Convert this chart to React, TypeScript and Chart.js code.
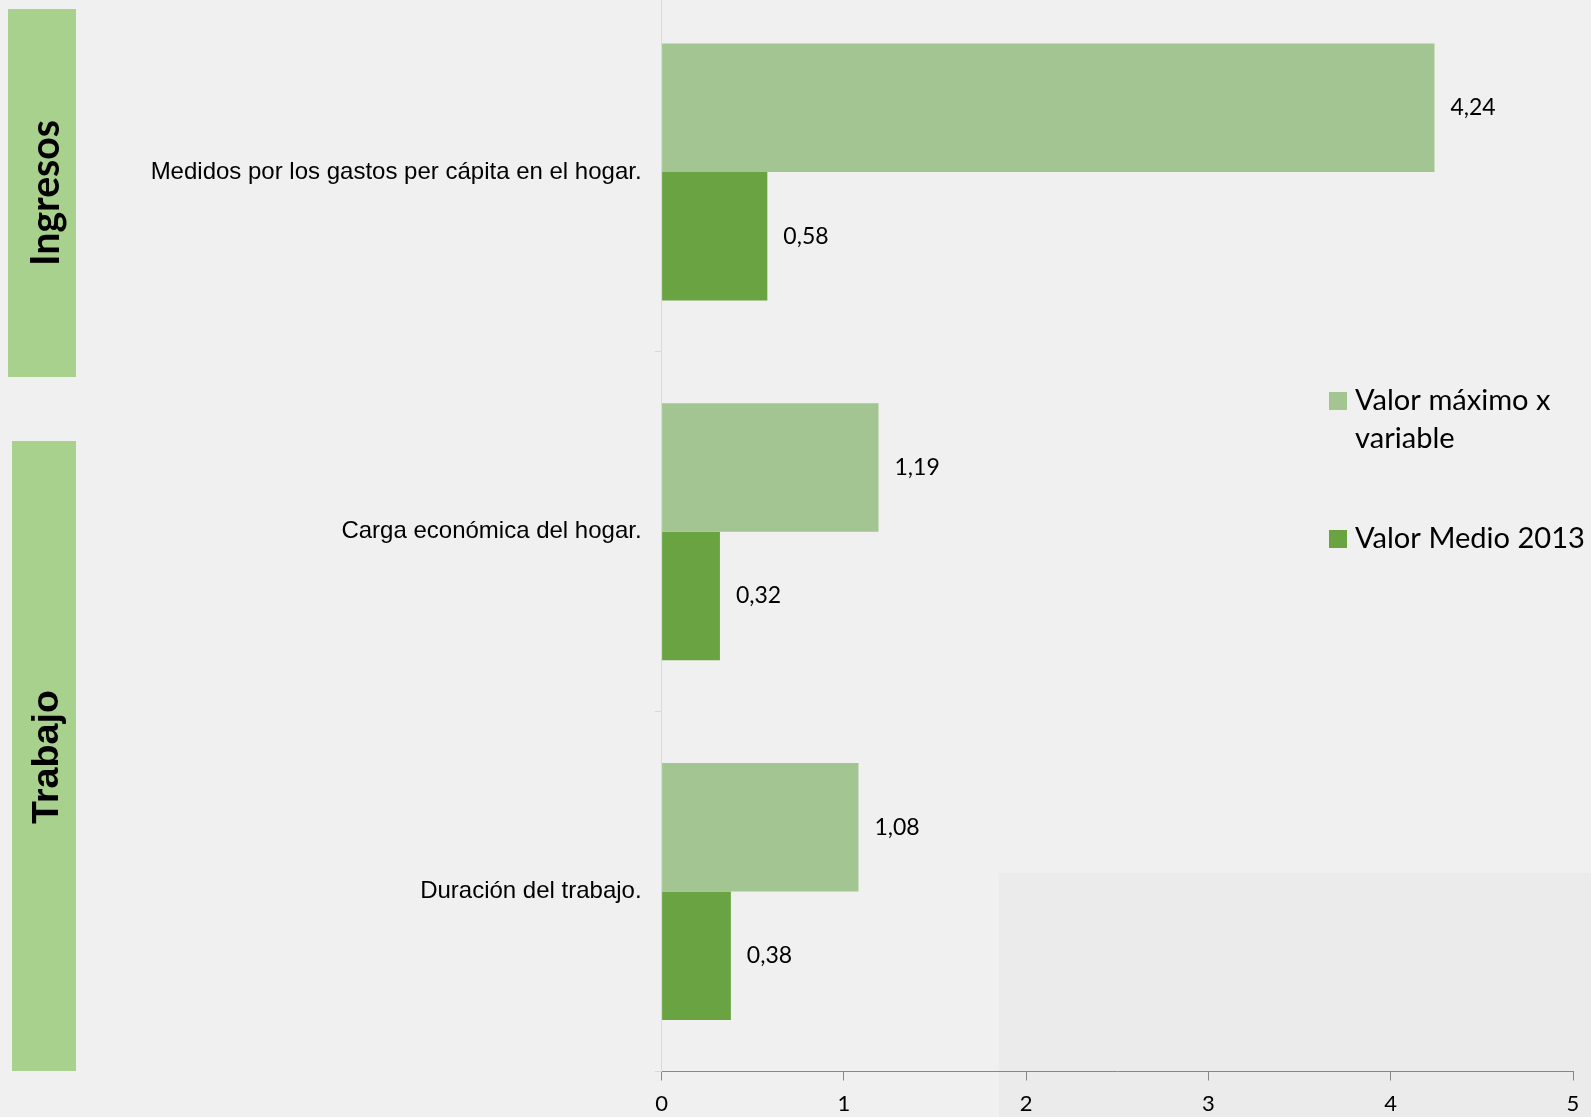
import React, { useEffect, useRef } from 'react';
import { Chart, registerables } from 'chart.js';

Chart.register(...registerables);

const categories = [
  'Medidos por los gastos per cápita en el hogar.',
  'Carga económica del hogar.',
  'Duración del trabajo.',
];
const maxValues = [4.24, 1.19, 1.08];
const meanValues = [0.58, 0.32, 0.38];
const seriesNames = ['Valor máximo x variable', 'Valor Medio 2013'];
const xTicks = [0, 1, 2, 3, 4, 5];
const groupNames = ['Ingresos', 'Trabajo'];

const LIGHT = '#A2C591';
const DARK = '#69A342';
const BOX = '#A9D18E';
const BG = '#F0F0F0';
const OFF = 8; // canvas top sits 8px above page top

const fmt = (v: number) => v.toFixed(2).replace('.', ',');

function fitSize(ctx: CanvasRenderingContext2D, text: string, weight: string, family: string, target: number) {
  ctx.font = `${weight} 100px ${family}`;
  const w = ctx.measureText(text).width;
  return (100 * target) / w;
}

const decorPlugin = {
  id: 'decor',
  beforeDraw(chart: any) {
    const { ctx, width, height } = chart;
    ctx.save();
    ctx.fillStyle = BG;
    ctx.fillRect(0, 0, width, height);
    ctx.fillStyle = '#EBEBEB';
    ctx.fillRect(999, 873 + OFF, width - 999, height - (873 + OFF));
    // group boxes
    const boxes = [
      { x: 8, y: 9, w: 68, h: 368, cx: 46, cy: 193, len: 146, fam: 'Lato, "Open Sans", sans-serif' },
      { x: 12, y: 441, w: 64, h: 630, cx: 48, cy: 757, len: 134, fam: '"Liberation Sans", Arial, sans-serif' },
    ];
    boxes.forEach((b, i) => {
      ctx.fillStyle = BOX;
      ctx.fillRect(b.x, b.y + OFF, b.w, b.h);
      const size = fitSize(ctx, groupNames[i], 'bold', b.fam, b.len);
      ctx.save();
      ctx.translate(b.cx, b.cy + OFF);
      ctx.rotate(-Math.PI / 2);
      ctx.font = `bold ${size}px ${b.fam}`;
      ctx.fillStyle = '#000';
      ctx.textAlign = 'center';
      ctx.textBaseline = 'middle';
      ctx.fillText(groupNames[i], 0, 0);
      ctx.restore();
    });
    ctx.restore();
  },
  afterDatasetsDraw(chart: any) {
    const { ctx } = chart;
    ctx.save();
    ctx.font = '23px Lato, "Open Sans", sans-serif';
    ctx.fillStyle = '#000';
    ctx.textAlign = 'left';
    ctx.textBaseline = 'middle';
    chart.data.datasets.forEach((ds: any, i: number) => {
      const meta = chart.getDatasetMeta(i);
      meta.data.forEach((el: any, j: number) => {
        ctx.fillText(fmt(ds.data[j]), el.x + 16, el.y);
      });
    });
    ctx.restore();
  },
  afterDraw(chart: any) {
    const { ctx } = chart;
    ctx.save();
    const fam = 'Lato, "Open Sans", sans-serif';
    const size = fitSize(ctx, seriesNames[1], 'normal', fam, 230);
    ctx.font = `${size}px ${fam}`;
    ctx.textBaseline = 'middle';
    ctx.textAlign = 'left';
    const maxW = 1591 - 1355 - 2;
    const itemY = [401, 539];
    chart.data.datasets.forEach((ds: any, i: number) => {
      const words = String(ds.label).split(' ');
      const lines: string[] = [];
      let cur = '';
      words.forEach((w) => {
        const t = cur ? cur + ' ' + w : w;
        if (ctx.measureText(t).width > maxW && cur) {
          lines.push(cur);
          cur = w;
        } else cur = t;
      });
      if (cur) lines.push(cur);
      const y0 = itemY[i] + OFF;
      ctx.fillStyle = ds.backgroundColor;
      ctx.fillRect(1329, y0 - 9, 18, 18);
      ctx.fillStyle = '#000';
      lines.forEach((ln, k) => ctx.fillText(ln, 1355, y0 + k * 38));
    });
    ctx.restore();
  },
};

export default function App() {
  const ref = useRef<HTMLCanvasElement | null>(null);
  useEffect(() => {
    document.body.style.background = BG;
    const chart = new Chart(ref.current as HTMLCanvasElement, {
      type: 'bar',
      data: {
        labels: categories,
        datasets: [
          { label: seriesNames[0], data: maxValues, backgroundColor: LIGHT, categoryPercentage: 0.714, barPercentage: 1 },
          { label: seriesNames[1], data: meanValues, backgroundColor: DARK, categoryPercentage: 0.714, barPercentage: 1 },
        ],
      },
      options: {
        indexAxis: 'y',
        responsive: false,
        animation: false,
        devicePixelRatio: 1,
        layout: { padding: { left: 0, right: 18, top: 0, bottom: 0 } },
        plugins: { legend: { display: false }, tooltip: { enabled: false } },
        scales: {
          x: {
            type: 'linear',
            min: 0,
            max: 5,
            afterBuildTicks: (s: any) => {
              s.ticks = xTicks.map((v) => ({ value: v }));
            },
            ticks: {
              color: '#000',
              font: { family: 'Lato, "Open Sans", sans-serif', size: 22 },
              padding: 10,
              autoSkip: false,
              maxRotation: 0,
            },
            grid: { drawOnChartArea: false, drawTicks: true, tickLength: 9, color: '#878787' },
            border: { color: '#878787' },
            afterFit: (s: any) => {
              s.height = 45.5;
              s.paddingLeft = 0;
              s.paddingRight = 0;
            },
          },
          y: {
            ticks: {
              color: '#000',
              font: { family: '"Liberation Sans", Arial, sans-serif', size: 24 },
              padding: 13,
              autoSkip: false,
            },
            grid: { offset: true, drawOnChartArea: false, drawTicks: true, tickLength: 7, color: '#D9D9D9' },
            border: { color: '#D9D9D9' },
            afterFit: (s: any) => {
              s.width = 661.6;
              s.paddingTop = 0;
              s.paddingBottom = 0;
            },
          },
        },
      } as any,
      plugins: [decorPlugin],
    });
    return () => chart.destroy();
  }, []);
  return (
    <div style={{ position: 'fixed', left: 0, top: -OFF, width: 1591, height: 1117 + OFF }}>
      <canvas ref={ref} width={1591} height={1117 + OFF} style={{ display: 'block', width: 1591, height: 1117 + OFF }} />
    </div>
  );
}
